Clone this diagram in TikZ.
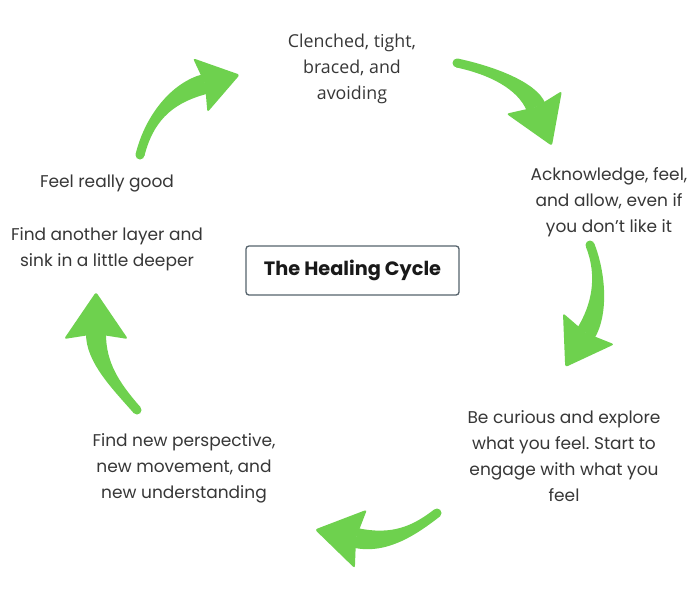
\documentclass[tikz,border=0pt]{standalone}
\usepackage{fontspec}
\setmainfont{Poppins}
\newfontfamily\opensans{Open Sans}
\usetikzlibrary{calc}
\definecolor{arrowgreen}{RGB}{110,209,78}
\definecolor{txt}{RGB}{55,55,55}
\definecolor{boxline}{RGB}{86,99,108}
\tikzset{
  lbl/.style={align=center, inner sep=0pt, text=txt, font=\fontsize{17}{26}\selectfont\frenchspacing},
  toplbl/.style={lbl, font=\opensans\fontsize{17.8}{26}\selectfont},
  titlebox/.style={draw=boxline, line width=1.3pt, rounded corners=3pt, minimum width=213pt, minimum height=49pt, inner sep=0pt, text=black!90, font=\fontsize{19.3}{22}\selectfont\bfseries},
  brush/.style={fill=arrowgreen}
}
% #1 P0 tail, #2 P1, #3 P2, #4 P3 neck, #5 head length, #6 head half width
\newcommand{\brusharrow}[6]{%
  \fill[brush] ($(#1)!4.5pt!90:(#2)$) .. controls ($(#2)!4.5pt!-90:(#1)$) and ($(#3)!10pt!90:(#4)$) .. ($(#4)!10pt!-90:(#3)$)
     -- ($(#4)!10pt!90:(#3)$) .. controls ($(#3)!10pt!-90:(#4)$) and ($(#2)!4.5pt!90:(#1)$) .. ($(#1)!4.5pt!-90:(#2)$) -- cycle;
  \fill[brush] (#1) circle (4.5pt);
  \coordinate (hB) at ($(#4)!5pt!(#3)$);
  \coordinate (hT) at ($(#4)!-#5!(#3)$);
  \fill[brush, rounded corners=2.5pt] ($(hB)!#6!90:(hT)$) -- (hT) -- ($(hB)!#6!-90:(hT)$) -- (#4) -- cycle;
}
\begin{document}
\begin{tikzpicture}[x=1pt,y=-1pt]
\useasboundingbox (0,0) rectangle (700,600);
\fill[white] (0,0) rectangle (700,600);

\node[titlebox] (title) at (352.5,270.5) {The Healing Cycle};

\node[toplbl] (clenched) at (352,69) {Clenched, tight,\\braced, and\\avoiding};
\node[lbl] (ack) at (609,202) {Acknowledge, feel,\\and allow, even if\\you don't like it};
\node[lbl] (curious) at (564,456) {Be curious and explore\\what you feel. Start to\\engage with what you\\feel};
\node[lbl] (newp) at (184,468) {Find new perspective,\\new movement, and\\new understanding};
\node[lbl] (good) at (107,183) {Feel really good};
\node[lbl] (layer) at (107,249) {Find another layer and\\sink in a little deeper};

% arrow 1 (left-top)
\coordinate (a1p0) at (140,155); \coordinate (a1p1) at (150,115);
\coordinate (a1p2) at (175,92);  \coordinate (a1p3) at (205,84);
\brusharrow{a1p0}{a1p1}{a1p2}{a1p3}{36pt}{28pt}
% arrow 2 (top-right)
\coordinate (a2p0) at (457,63); \coordinate (a2p1) at (490,70);
\coordinate (a2p2) at (527,85); \coordinate (a2p3) at (536,107);
\brusharrow{a2p0}{a2p1}{a2p2}{a2p3}{42pt}{30pt}
% arrow 3 (right)
\coordinate (a3p0) at (590,245); \coordinate (a3p1) at (602,275);
\coordinate (a3p2) at (600,310); \coordinate (a3p3) at (586,333);
\brusharrow{a3p0}{a3p1}{a3p2}{a3p3}{40pt}{30pt}
% arrow 4 (bottom)
\coordinate (a4p0) at (437,513); \coordinate (a4p1) at (415,530);
\coordinate (a4p2) at (390,545); \coordinate (a4p3) at (356,538);
\brusharrow{a4p0}{a4p1}{a4p2}{a4p3}{42pt}{30pt}
% arrow 5 (left)
\coordinate (a5p0) at (137,410); \coordinate (a5p1) at (115,385);
\coordinate (a5p2) at (96,362);  \coordinate (a5p3) at (96,334);
\brusharrow{a5p0}{a5p1}{a5p2}{a5p3}{42pt}{32pt}
\end{tikzpicture}
\end{document}
